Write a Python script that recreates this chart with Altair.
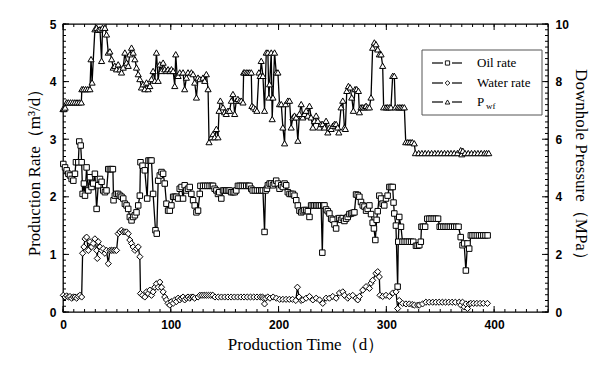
import altair as alt
import pandas as pd

# ---------------- data ----------------
# (day, oil rate m3/d)
OIL_RATE = [
    (0.3, 2.57), (1.9, 2.51), (3.4, 2.46), (5, 2.40), (6.5, 2.37), (8, 2.31), (9.6, 2.28), (11.1, 2.40),
    (12, 2.60), (14.2, 2.60), (15.1, 2.96), (16.4, 2.89), (17.3, 2.60), (18.2, 2.05), (19.4, 2.23),
    (20.4, 2.02), (21.9, 2.51), (23.5, 2.11), (25, 2.34), (26.5, 2.17), (28, 2.23), (29.6, 2.40),
    (31.2, 1.79), (32.7, 2.20), (34.3, 2.31), (35.8, 2.26), (37.3, 2.11), (38.9, 2.08), (40.4, 2.11),
    (42, 2.48), (43.5, 2.48), (45.1, 2.48), (46.3, 2.48), (46.9, 1.94), (48.1, 2.02), (49.7, 2.05),
    (51.2, 2.05), (52.8, 2.02), (54.3, 2.00), (55.9, 1.97), (57.4, 1.88), (59, 1.85), (60.5, 1.79),
    (62, 1.65), (63.6, 1.59), (65.1, 1.65), (66.7, 1.68), (68.2, 1.73), (69.8, 1.85), (71.3, 2.02),
    (71.9, 2.60), (73.8, 2.54), (75.9, 2.46), (78.1, 1.97), (79.3, 2.63), (80.7, 2.63), (82.1, 2.63),
    (83.6, 2.05), (85.8, 1.42), (87, 1.36), (88.3, 2.28), (89.8, 2.37), (91.4, 2.43), (92.9, 2.40),
    (94.4, 2.23), (96, 1.88), (97.5, 1.76), (99.1, 1.76), (100.6, 1.85), (102.2, 2.00), (103.7, 2.00),
    (105.2, 2.00), (106.8, 1.97), (108.3, 2.14), (110, 2.17), (111.4, 1.97), (112.9, 2.20), (114.5, 2.11),
    (116, 2.14), (117.6, 2.17), (119.1, 2.05), (120.7, 1.94), (122.2, 1.85), (123.8, 1.73), (125.3, 1.76),
    (126.9, 2.05), (127.5, 2.19), (130, 2.19), (132, 2.19), (134, 2.19), (136, 2.19), (138, 2.19),
    (139.2, 2.19), (140.7, 2.14), (142.3, 2.11), (143.8, 2.05), (145, 2.08), (146.9, 1.97), (148.5, 2.11),
    (150, 2.11), (151.5, 2.11), (153, 2.11), (154.6, 2.11), (156, 2.08), (157.7, 2.08), (159.3, 2.08),
    (160.8, 2.11), (162.3, 2.19), (164, 2.19), (166, 2.19), (168, 2.19), (170, 2.19), (172, 2.19),
    (173.1, 2.19), (174.7, 2.14), (176, 2.11), (178, 2.11), (180, 2.11), (182, 2.11), (184, 2.11),
    (185.5, 2.11), (187, 1.39), (187.9, 2.11), (189.2, 2.14), (190.1, 2.20), (191.7, 2.23), (193, 2.23),
    (194.8, 2.20), (196.3, 2.23), (197.8, 2.28), (199.4, 2.23), (200.9, 2.14), (202.5, 2.20), (204, 2.17),
    (205.6, 2.23), (207.1, 2.20), (208.6, 2.08), (210.2, 2.05), (211.7, 2.05), (213.3, 2.05), (214.8, 2.02),
    (216.4, 1.94), (217.9, 1.85), (219.4, 1.76), (221, 1.73), (222.5, 1.75), (224, 1.77), (225.6, 1.77),
    (227.2, 1.75), (228.7, 1.65), (230.2, 1.85), (231.8, 1.85), (233.3, 1.85), (234.9, 1.85), (236.4, 1.85),
    (238, 1.85), (239.5, 1.85), (240.6, 1.03), (241.5, 1.85), (242.6, 1.85), (244.1, 1.78), (245.7, 1.75),
    (247.2, 1.71), (248.8, 1.62), (250.3, 1.60), (251.9, 1.52), (253.4, 1.45), (254.9, 1.62), (256.4, 1.63),
    (258, 1.60), (259.6, 1.63), (261.1, 1.58), (262.7, 1.62), (264.2, 1.65), (265.7, 1.70), (267.3, 1.71),
    (268.8, 1.72), (270.4, 1.73), (271.9, 2.04), (273.5, 2.03), (275, 2.00), (276.5, 1.91), (278.1, 1.85),
    (279.7, 1.83), (281.2, 1.76), (282.7, 1.79), (284.3, 1.85), (285.8, 1.70), (287.3, 1.55), (288.5, 1.45),
    (289.8, 1.25), (291, 1.60), (292, 1.75), (293.5, 2.02), (295.1, 1.97), (296.6, 1.88), (298.1, 1.85),
    (299.7, 1.97), (301.2, 2.02), (302.8, 2.17), (304.3, 2.17), (305.9, 2.17), (306.7, 1.90), (307.4, 1.71),
    (308.9, 1.50), (310.5, 0.44), (311.1, 1.22), (312, 1.65), (313.6, 1.48), (315, 1.22), (317, 1.22),
    (319, 1.22), (321, 1.22), (323, 1.22), (325, 1.22), (327.5, 1.15), (329, 1.15), (330.6, 1.16),
    (332, 1.22), (332.6, 1.48), (334, 1.48), (336, 1.48), (338, 1.62), (340, 1.62), (342, 1.62),
    (344, 1.62), (346, 1.62), (348, 1.62), (349.5, 1.48), (351, 1.48), (353, 1.48), (355, 1.48),
    (357, 1.48), (359, 1.48), (361, 1.48), (363, 1.48), (365, 1.48), (367, 1.48), (369, 1.30),
    (370.7, 1.16), (372.2, 1.19), (373.8, 0.72), (375.3, 1.19), (376.9, 1.10), (378.4, 1.33), (380, 1.33),
    (382, 1.33), (384, 1.33), (386, 1.33), (388, 1.33), (390, 1.33), (392, 1.33), (394, 1.33),
]

# (day, water rate m3/d)
WATER_RATE = [
    (0.3, 0.29), (1.9, 0.26), (3.4, 0.28), (5, 0.26), (6.5, 0.27), (8, 0.24), (9.6, 0.26), (11.1, 0.26),
    (12.7, 0.24), (14.2, 0.27), (15.7, 0.29), (17.3, 0.26), (18.2, 1.02), (19.4, 1.13), (20.4, 1.27),
    (21.9, 1.30), (23.5, 1.07), (25, 1.22), (26.5, 1.13), (28, 1.19), (29.6, 1.27), (31.2, 1.07),
    (31.8, 0.93), (32.7, 1.22), (34.3, 1.13), (35.8, 1.07), (37.3, 1.10), (38.9, 1.02), (40.4, 1.07),
    (42, 0.84), (43.5, 1.07), (45.1, 1.07), (46.6, 1.07), (48.1, 1.07), (49.7, 1.07), (51.2, 1.36),
    (52.8, 1.39), (54.3, 1.42), (55.9, 1.39), (57.4, 1.39), (59, 1.39), (60.5, 1.36), (62, 1.25),
    (63.6, 1.19), (65.1, 1.13), (66.7, 1.07), (68.2, 1.10), (69.8, 1.13), (71.3, 0.96), (71.9, 0.32),
    (73.8, 0.29), (75.9, 0.26), (77.5, 0.35), (79, 0.32), (80.6, 0.38), (82.1, 0.29), (83.6, 0.35),
    (85.2, 0.43), (86.7, 0.49), (88.3, 0.43), (89.8, 0.52), (91.4, 0.43), (92.9, 0.35), (94.4, 0.26),
    (96, 0.21), (97.5, 0.15), (99.1, 0.12), (100.6, 0.18), (102.2, 0.15), (103.7, 0.21), (105.2, 0.18),
    (106.8, 0.24), (108.3, 0.21), (109.9, 0.24), (111.4, 0.26), (112.9, 0.21), (114.5, 0.24), (116, 0.26),
    (117.6, 0.24), (119.1, 0.26), (120.7, 0.26), (122.2, 0.24), (125.3, 0.26), (127, 0.29), (129, 0.29),
    (131, 0.29), (133, 0.29), (135, 0.29), (137, 0.29), (139, 0.29), (141, 0.26), (144, 0.26), (147, 0.26),
    (150, 0.26), (153, 0.26), (156, 0.26), (159, 0.26), (162, 0.26), (165, 0.26), (168, 0.26), (171, 0.26),
    (174, 0.26), (177, 0.26), (180, 0.26), (183, 0.26), (185, 0.26), (186, 0.24), (187, 0.14), (188, 0.24),
    (190, 0.26), (192, 0.24), (195, 0.26), (198, 0.24), (201, 0.22), (204, 0.22), (207, 0.22), (210, 0.22),
    (213, 0.22), (216, 0.20), (217.5, 0.43), (219, 0.26), (221, 0.20), (222.5, 0.21), (225.6, 0.24),
    (228.7, 0.27), (231.8, 0.21), (234.9, 0.24), (238, 0.21), (241, 0.15), (244.1, 0.24), (247.2, 0.24),
    (250.3, 0.27), (253.4, 0.24), (256.5, 0.33), (259.6, 0.35), (261.1, 0.29), (264.2, 0.24), (265.7, 0.27),
    (268.8, 0.29), (271.9, 0.24), (273.5, 0.21), (275, 0.27), (278.1, 0.38), (281.2, 0.44), (284.3, 0.41),
    (285.8, 0.50), (287.3, 0.55), (290.4, 0.67), (292, 0.70), (293.5, 0.61), (294.1, 0.29), (296.6, 0.27),
    (299.7, 0.29), (302.8, 0.27), (305.9, 0.33), (309, 0.35), (310.5, 0.06), (312, 0.20), (315.1, 0.15),
    (318.2, 0.14), (321.3, 0.14), (324, 0.13), (326, 0.12), (329, 0.12), (330.6, 0.12), (333.6, 0.14),
    (336.7, 0.17), (339.8, 0.17), (343, 0.17), (346, 0.17), (349, 0.17), (352, 0.17), (355, 0.17),
    (358, 0.17), (361, 0.17), (364, 0.17), (367.6, 0.17), (369.1, 0.12), (370.7, 0.17), (372.2, 0.09),
    (373.8, 0.14), (375.3, 0.06), (376.9, 0.14), (378.4, 0.15), (381, 0.15), (384, 0.15), (387, 0.15),
    (390, 0.15), (393.8, 0.15),
]

# (day, downhole pressure Pwf MPa)
PWF = [
    (0, 7.05), (1, 7.05), (2, 7.10), (3.4, 7.28), (5, 7.28), (7, 7.28), (9, 7.28), (11, 7.28), (13, 7.28),
    (15, 7.28), (17, 7.28), (17.5, 7.74), (19, 7.74), (21, 7.74), (23, 7.74), (25, 7.74), (26, 8.78),
    (27, 7.97), (29.6, 9.82), (31.2, 9.87), (32.7, 9.80), (34.3, 9.82), (35.8, 8.72), (36.7, 9.87),
    (38.9, 9.87), (40.4, 9.64), (42, 9.01), (43.5, 9.05), (45.1, 8.78), (46.6, 8.49), (48.1, 8.55),
    (49.7, 8.43), (51.2, 8.60), (52.8, 8.43), (54.3, 8.32), (55.9, 8.49), (57.4, 9.01), (59, 8.66),
    (60.5, 8.55), (62, 8.95), (63.6, 9.18), (65.1, 9.01), (66.7, 8.78), (68.2, 8.49), (69.8, 8.26),
    (71.3, 8.09), (72.8, 7.80), (74.4, 7.91), (75.9, 7.74), (77.5, 7.97), (79, 7.74), (80.6, 7.85),
    (82.1, 8.09), (83.6, 8.37), (85.2, 8.03), (86.7, 9.01), (88.3, 8.03), (89.8, 8.60), (91.4, 8.37),
    (92.9, 8.66), (94.4, 8.43), (96, 8.37), (97.5, 8.43), (99.1, 8.37), (100.6, 8.43), (102.2, 8.37),
    (103.7, 7.85), (104.6, 8.95), (105.9, 8.20), (106.8, 8.20), (108.3, 8.32), (111.4, 8.32), (112.9, 7.74),
    (114.5, 8.14), (116, 8.32), (119.1, 8.32), (120.7, 8.26), (122.2, 7.97), (123.8, 7.45), (125.3, 8.14),
    (126.9, 8.09), (129.9, 8.14), (131.5, 8.03), (133, 8.26), (134.6, 7.74), (135.5, 5.90), (137.7, 6.07),
    (139.2, 6.18), (140.7, 6.07), (142.3, 6.36), (143.8, 6.07), (144.8, 6.99), (146, 7.34), (148.5, 7.11),
    (150, 6.94), (151.5, 6.88), (153.1, 6.99), (154.6, 6.99), (156.2, 7.34), (157.7, 7.57), (159.3, 6.88),
    (160.8, 7.34), (162.3, 7.40), (163.9, 7.34), (165.4, 7.34), (167, 7.28), (167.6, 8.32), (168.5, 8.32),
    (170.1, 8.32), (171.6, 8.32), (173.1, 8.32), (174.7, 8.32), (175.3, 7.16), (176.8, 7.11), (178.7, 7.05),
    (179.9, 6.99), (181.8, 8.32), (183, 8.20), (183.9, 8.72), (185.5, 8.20), (187, 6.99), (188.6, 9.01),
    (190.1, 9.01), (191, 7.45), (191.7, 7.91), (193.2, 9.01), (194.1, 6.70), (194.8, 7.45), (196.3, 9.01),
    (197.8, 8.32), (199.4, 8.32), (200.9, 7.22), (202.5, 7.22), (204, 6.41), (205.6, 5.86), (206.5, 7.22),
    (208.6, 7.34), (210.2, 7.34), (211.7, 6.41), (213.3, 6.76), (214.8, 6.82), (216.4, 6.76), (217.9, 5.95),
    (219.4, 6.88), (221, 7.22), (222.5, 6.76), (224.1, 6.88), (225.6, 6.99), (227.2, 6.82), (228.7, 7.16),
    (230.2, 6.76), (231.8, 6.41), (233.3, 6.64), (234.9, 6.82), (236.4, 6.64), (238, 6.41), (239.5, 6.53),
    (241, 6.53), (242.6, 6.41), (244.1, 6.64), (245.7, 6.24), (247.2, 6.41), (248.8, 6.36), (250.3, 6.47),
    (251.9, 6.53), (253.4, 6.53), (254.9, 6.41), (255.9, 6.24), (258, 7.11), (259.6, 7.34), (261.1, 6.41),
    (262, 6.36), (263.3, 7.68), (264.8, 7.85), (266.4, 7.80), (267.9, 7.45), (269.4, 6.99), (271, 7.74),
    (272.5, 7.74), (274.1, 7.68), (275, 6.94), (276.6, 7.11), (278.1, 7.11), (279.7, 7.11), (281.2, 7.16),
    (282.7, 7.11), (284.3, 7.11), (285.8, 7.45), (287.3, 9.18), (288.9, 9.36), (290.4, 9.30), (292, 9.12),
    (293.5, 8.95), (295.1, 8.95), (296.6, 8.55), (297.5, 7.11), (299.7, 7.11), (301.2, 7.11), (302.8, 7.11),
    (304.3, 7.11), (305.9, 8.20), (307.4, 8.20), (308.3, 7.11), (310.5, 7.11), (312, 7.11), (313.6, 7.11),
    (315.1, 7.11), (316.7, 7.11), (318, 5.90), (320, 5.90), (322, 5.90), (324, 5.90), (325.9, 5.86),
    (327, 5.52), (330, 5.52), (333, 5.52), (336, 5.52), (339, 5.52), (342, 5.52), (345, 5.52), (348, 5.52),
    (351, 5.52), (354, 5.52), (357, 5.52), (360, 5.52), (363, 5.52), (366, 5.52), (369, 5.62), (370, 5.48),
    (371, 5.60), (373, 5.52), (376, 5.52), (379, 5.52), (382, 5.52), (385, 5.52), (388, 5.52), (391, 5.52),
    (393, 5.52), (395, 5.52),
]

LEGEND_LABELS = ["Oil rate", "Water rate", "P"]
LEGEND_SUB = "wf"
X_TICKS = [0, 100, 200, 300, 400]
X_MINOR = list(range(0, 451, 10))
Y_TICKS = [0, 1, 2, 3, 4, 5]
Y_MINOR = [i / 10 for i in range(51)]

X_TITLE = "Production Time（d）"
Y_LEFT_TITLE = "Production Rate（m³/d）"
Y_RIGHT_TITLE = "Downhole Pressure（MPa）"

# ---------------- chart ----------------
W, H = 485, 288
oil_df = pd.DataFrame(OIL_RATE, columns=["day", "rate"])
water_df = pd.DataFrame(WATER_RATE, columns=["day", "rate"])
pwf_df = pd.DataFrame(PWF, columns=["day", "pwf"])

xscale = alt.Scale(domain=[0, 450], nice=False, zero=False)
yscale = alt.Scale(domain=[0, 5], nice=False, zero=False)

SANS = "Liberation Sans"
SERIF = "Liberation Serif"

label_common = dict(ticks=False, tickSize=0, domain=False, grid=False, labelFont=SANS,
                    labelFontSize=12, labelFontWeight="bold", labelColor="black", labelFlush=False,
                    titleFont=SERIF, titleFontSize=17, titleFontWeight="normal", titleColor="black")

x_lab = alt.Axis(orient="bottom", values=X_TICKS, labelPadding=7, title=X_TITLE, titlePadding=6,
                 **label_common)
y_lab_left = alt.Axis(orient="left", values=Y_TICKS, labelPadding=7, title=Y_LEFT_TITLE,
                      titlePadding=6, **label_common)
y_lab_right = alt.Axis(orient="right", values=Y_TICKS, labelPadding=7, labelExpr="datum.value * 2",
                       title=Y_RIGHT_TITLE, titlePadding=3, **label_common)


def xenc(axis=None):
    return alt.X("day:Q", scale=xscale, axis=axis)


def yenc(field, axis=None):
    return alt.Y(field, scale=yscale, axis=axis)


line_style = dict(color="black", strokeWidth=1.3)
pt_style = dict(filled=True, fill="white", stroke="black", strokeWidth=1, opacity=1)

oil_line = alt.Chart(oil_df).mark_line(**line_style).encode(
    x=xenc(x_lab), y=yenc("rate:Q", y_lab_left))
oil_pts = alt.Chart(oil_df).mark_point(shape="square", size=30, **pt_style).encode(
    x=xenc(), y=yenc("rate:Q"))

water_line = alt.Chart(water_df).mark_line(**line_style).encode(
    x=xenc(), y=yenc("rate:Q"))
water_pts = alt.Chart(water_df).mark_point(shape="diamond", size=38, **pt_style).encode(
    x=xenc(), y=yenc("rate:Q", y_lab_right))

pwf_base = alt.Chart(pwf_df).transform_calculate(pv="datum.pwf / 2")
pwf_line = pwf_base.mark_line(**line_style).encode(x=xenc(), y=yenc("pv:Q"))
pwf_pts = pwf_base.mark_point(shape="triangle-up", size=38, **pt_style).encode(
    x=xenc(), y=yenc("pv:Q"))


# ---------------- inward ticks on all four sides ----------------
def x_ticks(values, size, top):
    return alt.Chart(pd.DataFrame({"v": values})).mark_tick(
        orient="vertical", size=size, thickness=1, color="black", opacity=1).encode(
        x=alt.X("v:Q", scale=xscale, axis=None),
        y=alt.value(size / 2 if top else H - size / 2))


def y_ticks(values, size, right):
    return alt.Chart(pd.DataFrame({"v": values})).mark_tick(
        orient="horizontal", size=size, thickness=1, color="black", opacity=1).encode(
        y=alt.Y("v:Q", scale=yscale, axis=None),
        x=alt.value(W - size / 2 if right else size / 2))


tick_layers = [
    x_ticks(X_MINOR, 3, False), x_ticks(X_TICKS, 6, False),
    x_ticks(X_MINOR, 3, True), x_ticks(X_TICKS, 6, True),
    y_ticks(Y_MINOR, 3, False), y_ticks(Y_TICKS, 6, False),
    y_ticks(Y_MINOR, 3, True), y_ticks(Y_TICKS, 6, True),
]

# ---------------- legend (drawn inside the plot) ----------------
leg_src = alt.Chart(pd.DataFrame({"k": [0]}))
legend_layers = [
    leg_src.mark_rect(fill="white", stroke="#555555", strokeWidth=1).encode(
        x=alt.value(359), x2=alt.value(479), y=alt.value(26), y2=alt.value(91))
]
shapes = ["square", "diamond", "triangle-up"]
sizes = [18, 22, 22]
rows = [39, 59, 78]
for label, shape, sz, ry in zip(LEGEND_LABELS, shapes, sizes, rows):
    legend_layers.append(leg_src.mark_rule(color="black", strokeWidth=1.2).encode(
        x=alt.value(369), x2=alt.value(380), y=alt.value(ry)))
    legend_layers.append(leg_src.mark_rule(color="black", strokeWidth=1.2).encode(
        x=alt.value(389), x2=alt.value(399), y=alt.value(ry)))
    legend_layers.append(leg_src.mark_point(shape=shape, size=sz, filled=True, fill="white",
                                            stroke="black", strokeWidth=0.9, opacity=1).encode(
        x=alt.value(384.5), y=alt.value(ry)))
    legend_layers.append(leg_src.mark_text(align="left", baseline="middle", font=SERIF, fontSize=13,
                                           color="black").encode(
        x=alt.value(414), y=alt.value(ry), text=alt.value(label)))
legend_layers.append(leg_src.mark_text(align="left", baseline="middle", font=SERIF, fontSize=9,
                                       color="black").encode(
    x=alt.value(423), y=alt.value(rows[2] + 4), text=alt.value(LEGEND_SUB)))

chart = alt.layer(
    *tick_layers, oil_line, oil_pts, water_line, water_pts, pwf_line, pwf_pts, *legend_layers
).resolve_axis(
    x="independent", y="independent"
).properties(
    width=W, height=H,
    padding={"left": 55, "top": 16, "right": 44, "bottom": 46},
    autosize=alt.AutoSizeParams(type="none"),
    background="white",
).configure_view(stroke="black", strokeWidth=1.3)

chart.save("out.html", embed_options={"renderer": "svg", "actions": False})
